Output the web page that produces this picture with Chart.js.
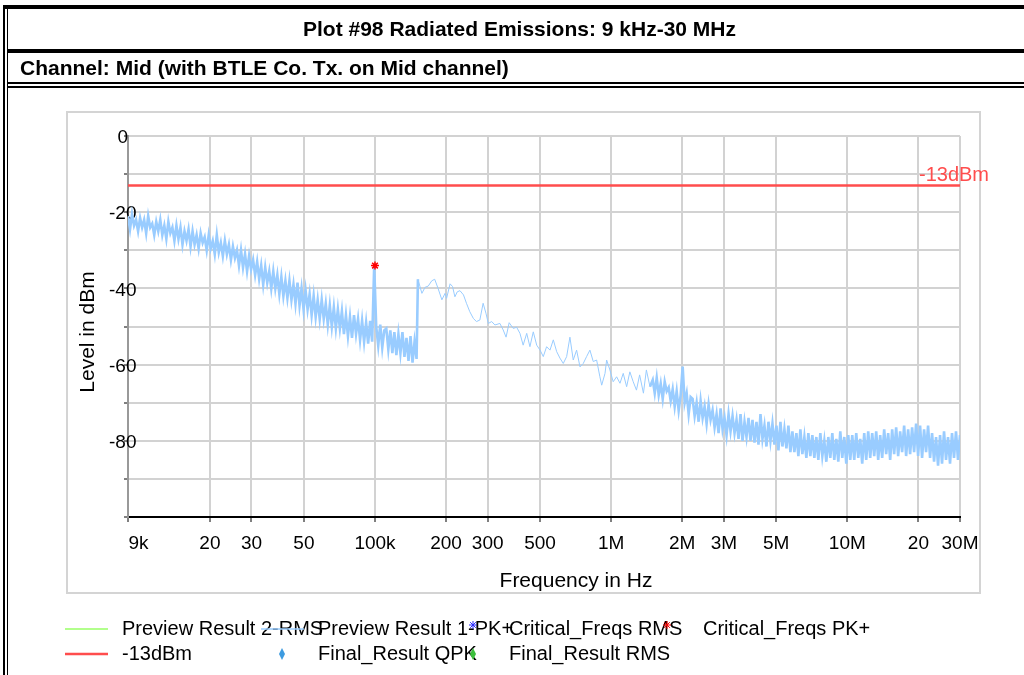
<!DOCTYPE html>
<html>
<head>
<meta charset="utf-8">
<title>Plot #98 Radiated Emissions</title>
<script src="https://cdn.jsdelivr.net/npm/chart.js@4.4.1/dist/chart.umd.min.js"></script>
<style>
    body { margin: 0; background: #fff; font-family: "Liberation Sans", Arial, sans-serif; }
    #page { position: relative; width: 1024px; height: 675px; overflow: hidden; }
    #chart { position: absolute; left: 0; top: 0; }
    .rule { position: absolute; background: #000; z-index: 2; }
    .head { position: absolute; z-index: 2; font-weight: bold; font-size: 21px; color: #000; white-space: nowrap; }
</style>
</head>
<body>
<div id="page">
    <canvas id="chart" width="1024" height="675"></canvas>
    <div class="rule" style="left:3px;top:5px;width:2px;height:670px"></div>
    <div class="rule" style="left:7px;top:5px;width:1px;height:670px"></div>
    <div class="rule" style="left:3px;top:5px;width:1021px;height:4px"></div>
    <div class="rule" style="left:7px;top:49px;width:1017px;height:4px"></div>
    <div class="rule" style="left:7px;top:82px;width:1017px;height:2px"></div>
    <div class="rule" style="left:7px;top:86px;width:1017px;height:2px"></div>
    <div class="head" style="left:7px;top:9px;width:1025px;line-height:40px;text-align:center">Plot #98 Radiated Emissions: 9 kHz-30 MHz</div>
    <div class="head" style="left:20px;top:53px;line-height:29px">Channel: Mid (with BTLE Co. Tx. on Mid channel)</div>
</div>

<script>
// Achsen
const X_TICKS = [9e3, 2e4, 3e4, 5e4, 1e5, 2e5, 3e5, 5e5, 1e6, 2e6, 3e6, 5e6, 1e7, 2e7, 3e7];
const X_TICK_LABELS = ['    9k', '20', '30', '50', '100k', '200', '300', '500', '1M', '2M', '3M', '5M', '10M', '20', '30M'];
const Y_MIN = -100;
const Y_MAX = 0;

// Grenzwert
const LIMIT_FREQS = [9e3, 30e6];
const LIMIT_LEVEL = -13;

// Preview Result 1-PK+, Sweep 9 kHz - 150 kHz
const SWEEP_A_RANGE = [9e3, 150e3];
const SWEEP_A_LEVELS = [
    -21, -24.5, -20.5, -23.5, -22, -25, -21.5, -24,
    -22, -25.5, -21, -24, -23, -26, -22.5, -25,
    -22, -26, -23.5, -27, -22.5, -25.5, -24, -27.5,
    -23.5, -27, -24, -28.5, -25, -27.5, -24.5, -29,
    -25, -28.5, -26, -29.5, -25.5, -28, -26.5, -30,
    -26, -29.5, -27.5, -31, -26, -30.5, -28, -31.5,
    -27.5, -31, -28.5, -32.5, -29, -32, -30, -34,
    -30, -34.5, -31, -35.5, -31.5, -35, -32.5, -36.5,
    -33, -37.5, -34, -39, -34.5, -38.5, -35.5, -40,
    -35.5, -40, -36.5, -41.5, -37, -42, -38, -42.5,
    -38, -43, -39, -44, -38.5, -44.5, -40, -45.5,
    -40.5, -45.5, -41.5, -47, -42, -47.5, -43, -48,
    -43, -48, -44, -49.5, -44.5, -50, -45, -50.5,
    -45.5, -50.5, -46, -52, -47, -52.5, -47.5, -53,
    -47, -52, -48, -53.5, -48.5, -54, -49, -54.5,
    -48.5, -54, -34, -50, -55, -49.5, -55.5, -51,
    -50.5, -56, -51, -57, -51.5, -57.5, -52, -57,
    -51.5, -58, -53, -59, -52.5, -59.5, -54, -58.5
];

// Sweep 150 kHz - 1.5 MHz
const SWEEP_B_FREQS = [
    152e3, 158e3, 163e3, 168e3, 174e3, 179e3, 185e3, 192e3, 198e3, 201e3,
    208e3, 213e3, 218e3, 223e3, 229e3, 237e3, 244e3, 252e3, 261e3, 269e3,
    278e3, 287e3, 295e3, 302e3, 312e3, 322e3, 338e3, 349e3, 359e3, 370e3,
    385e3, 398e3, 411e3, 424e3, 439e3, 453e3, 468e3, 484e3, 500e3, 516e3,
    533e3, 551e3, 569e3, 588e3, 607e3, 627e3, 648e3, 669e3, 691e3, 714e3,
    738e3, 762e3, 787e3, 813e3, 840e3, 868e3, 896e3, 912e3, 942e3, 957e3,
    988e3, 1.02e6, 1.055e6, 1.09e6, 1.125e6, 1.163e6, 1.2e6, 1.24e6, 1.28e6, 1.32e6,
    1.37e6, 1.41e6, 1.46e6
];
const SWEEP_B_LEVELS = [
    -37.6, -41.3, -39.7, -39.4, -38, -37.6, -40, -43, -41.3, -42.6,
    -38.8, -39.5, -42.2, -40.9, -40.6, -41.7, -43.9, -46.1, -47.9, -48.7,
    -48.3, -43.9, -46.5, -49.2, -48.7, -49.6, -49.2, -50.9, -52.8, -49,
    -50.5, -50.2, -51.8, -54.9, -51.8, -55.3, -51.4, -54.9, -56.2, -57.9,
    -55.3, -56.2, -53.5, -56.6, -58.3, -59.7, -57.9, -52.8, -58.8, -56.2,
    -60.6, -59.7, -57.9, -56.2, -59.2, -58.8, -63.2, -65.4, -62.3, -58.8,
    -61.4, -64.5, -63.2, -64.9, -62.3, -65.8, -61.9, -64.5, -66.7, -62.7,
    -67.5, -61.4, -65.8
];

// Sweep 1.5 MHz - 30 MHz
const SWEEP_C_RANGE = [1.5e6, 30e6];
const SWEEP_C_LEVELS = [
    -64, -67.5, -63.5, -68, -65, -69, -64.5, -67, -66, -69.5,
    -66.5, -71, -67, -72, -68, -60.5, -70, -67.5, -73, -68.5,
    -69, -73.5, -70, -75, -69.5, -74, -71, -75.5, -70.5, -74.5,
    -72, -76.5, -73, -78, -71.5, -77, -74, -78.5, -73, -77.5,
    -73.5, -78, -74.5, -79.5, -73, -80, -75, -79, -74, -80,
    -74.5, -80.5, -75, -81, -73, -79.5, -76, -81.5, -75, -80,
    -75.5, -81, -76, -82.5, -75, -81.5, -77, -82, -76, -83,
    -77.5, -83, -78, -84, -77, -83.5, -79, -84.5, -78, -84,
    -78.5, -84.5, -79, -85, -78, -84, -80, -85.5, -79, -84.5,
    -78, -85, -79.5, -85.5, -77.5, -84.5, -79, -86, -78.5, -85,
    -78.5, -85, -78, -84.5, -79.5, -86, -78, -85, -77.5, -84.5,
    -78, -84, -77.5, -85, -78.5, -84.5, -77, -83.5, -78, -85,
    -77, -83.5, -76.5, -84, -77.5, -83, -76, -84, -77, -83.5,
    -76.5, -83, -75.5, -84, -76, -84.5, -77, -83, -76, -84.5,
    -78, -85.5, -79, -86.5, -78.5, -86, -77.5, -85, -79, -86,
    -78, -84.5, -77.5, -85, -78.5
];

// Critical_Freqs PK+
const CRIT_PK_FREQS = [100e3];
const CRIT_PK_LEVELS = [-34];

// Legende: [Dataset, Spalte, Zeile]
const LEGEND_COLS = [122, 318, 509, 703];
const LEGEND_ROWS = [629, 654];
const LEGEND_ITEMS = [[0, 0, 0], [1, 1, 0], [2, 2, 0], [3, 3, 0], [4, 0, 1], [5, 1, 1], [6, 2, 1]];

const FONT = '"Liberation Sans", Arial, sans-serif';

// Sweep-Punkte auf die Frequenzachse legen
function sweep(range, levels) {
    const [f0, f1] = range;
    const n = levels.length - 1;
    return levels.map((y, i) => ({ x: f0 * Math.pow(f1 / f0, i / n), y }));
}

function pairs(freqs, levels) {
    return freqs.map((f, i) => ({ x: f, y: levels[i] }));
}

const trace = sweep(SWEEP_A_RANGE, SWEEP_A_LEVELS)
    .concat(pairs(SWEEP_B_FREQS, SWEEP_B_LEVELS))
    .concat(sweep(SWEEP_C_RANGE, SWEEP_C_LEVELS));

// Rauschband dicker zeichnen als den glatten Teil
function noisyWidth(c) {
    const f = c.p0.parsed.x;
    return (f < SWEEP_B_FREQS[0] || f >= SWEEP_B_FREQS[SWEEP_B_FREQS.length - 1]) ? 2.6 : 1;
}

const extras = {
    id: 'extras',
    beforeDraw(chart) {
        const ctx = chart.ctx;
        ctx.save();
        ctx.strokeStyle = '#d4d4d4';
        ctx.lineWidth = 2;
        ctx.strokeRect(67, 112, 913, 481);
        ctx.restore();
    },
    afterDraw(chart) {
        const { ctx, scales } = chart;

        // Achsentitel
        ctx.save();
        ctx.fillStyle = '#000';
        ctx.font = '21px ' + FONT;
        ctx.textAlign = 'center';
        ctx.textBaseline = 'middle';
        ctx.fillText('Frequency in Hz', 576, 581);
        ctx.translate(88, 332);
        ctx.rotate(-Math.PI / 2);
        ctx.fillText('Level in dBm', 0, 0);
        ctx.restore();

        // Grenzwert-Beschriftung
        ctx.save();
        ctx.fillStyle = '#ff4d4d';
        ctx.font = '20px ' + FONT;
        ctx.textBaseline = 'middle';
        ctx.fillText('-13dBm', scales.x.getPixelForValue(LIMIT_FREQS[1]) - 41, scales.y.getPixelForValue(LIMIT_LEVEL) - 10);
        ctx.restore();

        // Legende
        LEGEND_ITEMS.forEach(([i, col, row]) => {
            const ds = chart.data.datasets[i];
            const tx = LEGEND_COLS[col];
            const ty = LEGEND_ROWS[row];
            ctx.save();
            ctx.fillStyle = '#000';
            ctx.font = '20px ' + FONT;
            ctx.textBaseline = 'middle';
            ctx.fillText(ds.label, tx, ty);
            if (ds.showLine) {
                ctx.strokeStyle = ds.borderColor;
                ctx.lineWidth = ds.legendWidth || ds.borderWidth;
                ctx.beginPath();
                ctx.moveTo(tx - 57, ty);
                ctx.lineTo(tx - 14, ty);
                ctx.stroke();
            } else if (ds.pointStyle === 'star') {
                ctx.strokeStyle = ds.borderColor;
                Chart.helpers.drawPoint(ctx, { pointStyle: 'star', radius: 4, borderWidth: 1.5, rotation: 0 }, tx - 36, ty - 4);
            } else {
                ctx.fillStyle = ds.backgroundColor;
                ctx.beginPath();
                ctx.moveTo(tx - 36, ty - 6);
                ctx.lineTo(tx - 33, ty);
                ctx.lineTo(tx - 36, ty + 6);
                ctx.lineTo(tx - 39, ty);
                ctx.closePath();
                ctx.fill();
            }
            ctx.restore();
        });
    }
};

Chart.defaults.font.family = FONT;
Chart.defaults.color = '#000';

new Chart(document.getElementById('chart'), {
    type: 'scatter',
    data: {
        datasets: [
            { label: 'Preview Result 2-RMS', data: [], showLine: true, borderColor: '#99ff66', borderWidth: 1.5, pointRadius: 0 },
            { label: 'Preview Result 1-PK+', data: trace, showLine: true, borderColor: '#99ccff', borderWidth: 1, legendWidth: 1.5,
              segment: { borderWidth: noisyWidth }, pointRadius: 0, order: 3 },
            { label: 'Critical_Freqs RMS', data: [], pointStyle: 'star', borderColor: '#2a2aff', pointRadius: 4 },
            { label: 'Critical_Freqs PK+', data: pairs(CRIT_PK_FREQS, CRIT_PK_LEVELS), pointStyle: 'star', borderColor: '#ff0000', backgroundColor: '#ff0000', pointRadius: 4, pointBorderWidth: 1.5, order: 0 },
            { label: '-13dBm', data: pairs(LIMIT_FREQS, [LIMIT_LEVEL, LIMIT_LEVEL]), showLine: true, borderColor: '#ff4d4d', borderWidth: 2.5, pointRadius: 0, order: 1 },
            { label: 'Final_Result QPK', data: [], pointStyle: 'rectRot', backgroundColor: '#3d9be0' },
            { label: 'Final_Result RMS', data: [], pointStyle: 'rectRot', backgroundColor: '#3cbf3c' }
        ]
    },
    options: {
        responsive: false,
        animation: false,
        layout: { padding: { left: 0, top: 136, right: 64, bottom: 118 } },
        plugins: { legend: { display: false }, tooltip: { enabled: false } },
        scales: {
            x: {
                type: 'logarithmic',
                min: X_TICKS[0],
                max: X_TICKS[X_TICKS.length - 1],
                afterBuildTicks: axis => { axis.ticks = X_TICKS.map(v => ({ value: v })); },
                afterFit: axis => { axis.height = 40; },
                ticks: { autoSkip: false, maxRotation: 0, padding: 10, font: { size: 19 }, callback: (v, i) => X_TICK_LABELS[i] },
                grid: { color: '#d2d2d2', lineWidth: 2, tickColor: '#000', tickLength: 5, tickWidth: 1 },
                border: { color: '#000', width: 2 }
            },
            y: {
                min: Y_MIN,
                max: Y_MAX,
                afterFit: axis => { axis.width = 128; },
                ticks: { stepSize: 10, mirror: true, padding: -19, crossAlign: 'center', labelOffset: 2, font: { size: 19 },
                    callback: v => (v % 20 === 0 && v > Y_MIN) ? String(v) : '' },
                grid: { color: '#d2d2d2', lineWidth: 2, tickColor: '#000', tickLength: 4, tickWidth: 1 },
                border: { color: '#999', width: 2 }
            }
        }
    },
    plugins: [extras]
});
</script>
</body>
</html>
